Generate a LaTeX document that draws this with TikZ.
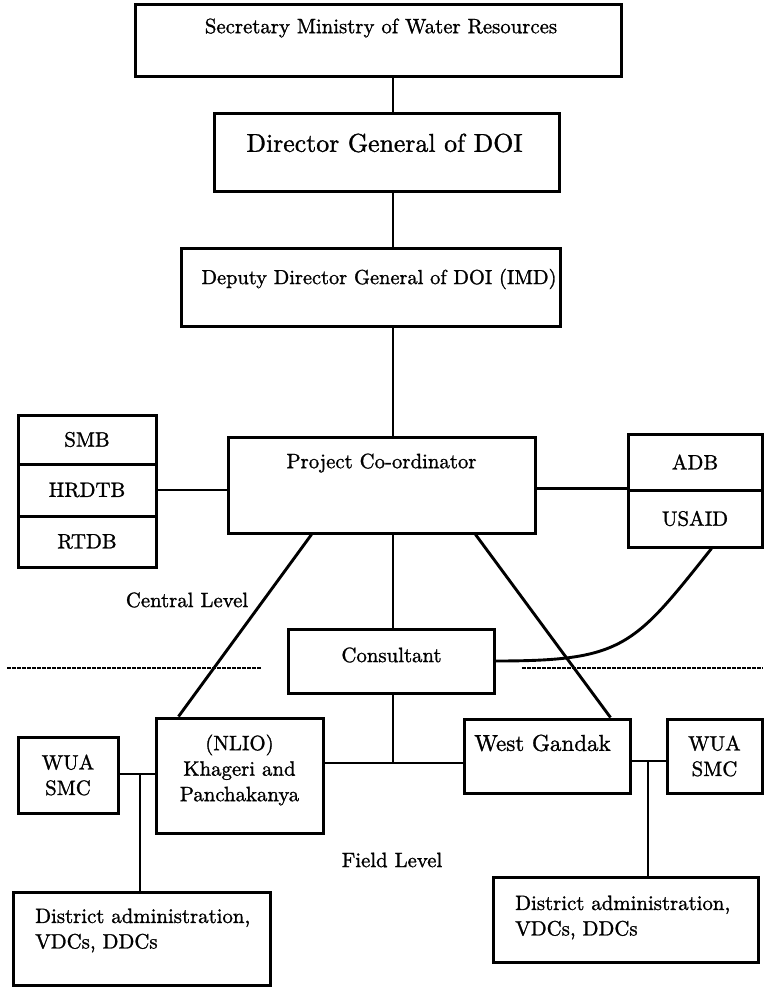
\documentclass[tikz,border=0pt]{standalone}
\usepackage{fontspec}
\newfontfamily\scanrm[FakeBold=1.2]{lmroman10-regular.otf}
\begin{document}
\begin{tikzpicture}[x=1pt,y=-1pt,
  box/.style={draw, line width=3pt, inner sep=0pt, align=center,
    font=\scanrm\fontsize{20.8}{25.5}\selectfont},
  txt/.style={inner sep=0pt, align=center, font=\scanrm\fontsize{20.8}{25.5}\selectfont},
  conn/.style={line width=2.9pt},
  levelsep/.style={line width=1.5pt, dash pattern=on 4pt off 1pt}]
\useasboundingbox (0,0) rectangle (763,987);

% vertical chain of command
\node[box, minimum width=486, minimum height=72] (sec) at (378,41) {};
\node[txt] (secT) at (381,28) {Secretary Ministry of Water Resources};
\node[box, minimum width=345, minimum height=78] (dg) at (386.5,153) {};
\node[txt, font=\scanrm\fontsize{25.8}{30}\selectfont] (dgT) at (384.5,143) {Director General of DOI};
\node[box, minimum width=379, minimum height=78] (ddg) at (370.5,287) {};
\node[txt, font=\scanrm\fontsize{20.4}{25}\selectfont] (ddgT) at (379,279) {Deputy Director General of DOI (IMD)};
\node[box, minimum width=307, minimum height=96] (pc) at (381.5,485) {};
\node[txt] (pcT) at (381.5,463) {Project Co-ordinator};
\node[box, minimum width=206, minimum height=64] (cons) at (391,661) {};
\node[txt] (consT) at (391.5,655) {Consultant};

% boards on the left
\node[box, minimum width=138, minimum height=49] (smb) at (87,439.5) {SMB};
\node[box, minimum width=138, minimum height=52] (hrd) at (87,490) {HRDTB};
\node[box, minimum width=138, minimum height=51] (rtd) at (87,541.5) {RTDB};

% donors on the right
\node[box, minimum width=134, minimum height=56] (adb) at (695,462) {ADB};
\node[box, minimum width=134, minimum height=57] (usaid) at (695,518.5) {USAID};

% field level offices
\node[box, minimum width=167, minimum height=115] (nlio) at (239.5,775.5) {};
\node[txt] (nlioT) at (239.5,770) {(NLIO)\\Khageri and\\Panchakanya};
\node[box, minimum width=100, minimum height=76] (wuaL) at (68,775) {WUA\\SMC};
\node[box, minimum width=257, minimum height=93] (distL) at (141.5,938.5) {};
\node[txt, align=left, anchor=west] (distLT) at (35,930.5) {District administration,\\VDCs, DDCs};
\node[box, minimum width=166, minimum height=74] (wg) at (547,756) {};
\node[txt, font=\scanrm\fontsize{23}{27}\selectfont] (wgT) at (542.5,743) {West Gandak};
\node[box, minimum width=95, minimum height=74] (wuaR) at (714.5,756) {WUA\\SMC};
\node[box, minimum width=265, minimum height=85] (distR) at (625.5,919.5) {};
\node[txt, align=left, anchor=west] (distRT) at (515,917.5) {District administration,\\VDCs, DDCs};

% level labels
\node[txt] (central) at (187,600) {Central Level};
\node[txt] (field) at (392,860) {Field Level};

% connectors
\coordinate (spine) at (393,0);
\draw[conn] (sec.south -| spine) -- (dg.north -| spine);
\draw[conn] (dg.south -| spine) -- (ddg.north -| spine);
\draw[conn] (ddg.south -| spine) -- (pc.north -| spine);
\draw[conn] (pc.south -| spine) -- (cons.north -| spine);
\draw[conn] (hrd.east) -- (hrd.east -| pc.west);
\draw[conn] (pc.east |- usaid.north west) -- (usaid.north west);
\draw[conn] ([xshift=85pt]pc.south west) -- ([xshift=24pt]nlio.north west);
\draw[conn] ([xshift=249pt]pc.south west) -- ([xshift=148pt]wg.north west);
\draw[conn] ([xshift=85pt]usaid.south west) .. controls +(-78,98) and +(128,0) .. (cons.east);

\coordinate (bus) at (323,763);
\draw[conn] (bus) -- (bus -| wg.west);
\draw[conn] (cons.south -| spine) -- (spine |- bus);
\coordinate (jl) at (140,774);
\draw[conn] (wuaL.east |- jl) -- (jl -| nlio.west);
\draw[conn] (jl) -- (jl |- distL.north);
\coordinate (jr) at (648,761);
\draw[conn] (jr -| wg.east) -- (jr -| wuaR.west);
\draw[conn] (jr) -- (jr |- distR.north);

% boundary between central and field level
\coordinate (dl0) at (7,668);
\coordinate (dl1) at (261,668);
\coordinate (dr0) at (522,668);
\coordinate (dr1) at (763,668);
\draw[levelsep] (dl0) -- (dl1);
\draw[levelsep] (dr0) -- (dr1);
\end{tikzpicture}
\end{document}
